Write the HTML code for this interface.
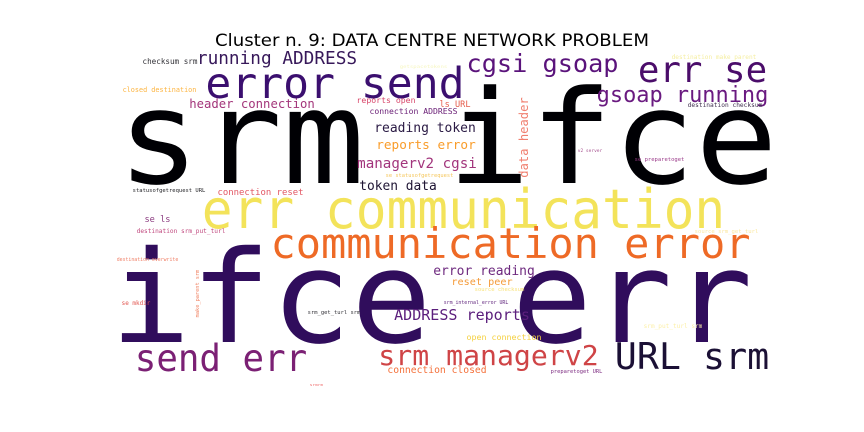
<!DOCTYPE html>
<html><head><meta charset="utf-8">
<style>
html,body{margin:0;padding:0;background:#fff;}
svg{display:block;}
text{font-family:"DejaVu Sans Mono","Liberation Mono",monospace;}
</style></head>
<body>
<svg id="cloud" width="864" height="432" viewBox="0 0 864 432" xmlns="http://www.w3.org/2000/svg">
<rect width="864" height="432" fill="#ffffff"/>
<text x="432" y="46" text-anchor="middle" font-size="17" textLength="434" lengthAdjust="spacingAndGlyphs" style="font-family:'DejaVu Sans','Liberation Sans',sans-serif" fill="#000">Cluster n. 9: DATA CENTRE NETWORK PROBLEM</text>
<g id="words"></g>
</svg>
<script>
// words (data)
const words = ["srm ifce","ifce err","err communication","communication error","error send","cgsi gsoap","err se","gsoap running","running ADDRESS","checksum srm","header connection","closed destination","reports open","ls URL","connection ADDRESS","reading token","reports error","managerv2 cgsi","token data","se statusofgetrequest","statusofgetrequest URL","connection reset","getspacetokens","destination make_parent","destination checksum","data header","v2 server","se preparetoget","se ls","destination srm_put_turl","destination overwrite","make_parent srm","se mkdir","srm_get_turl srm","error reading","reset peer","source checksum","srm_internal_error URL","ADDRESS reports","open connection","srm_put_turl srm","source srm_get_turl","send err","srm managerv2","URL srm","connection closed","preparetoget URL","srmrm"];
const weights = [130,128,54,42,43,25,36,22,18,7.6,12.3,6.8,8.2,8.6,8.1,13,12.7,14.2,12.9,5.4,5.5,9,4,6.1,6.2,12.5,4.5,5.5,8.6,6.2,4.9,5.3,6,5.5,13,10,5.5,4.9,15,8.3,6.1,5.6,37,28,36.6,9.7,5.4,3.2];
const colors = ["#000004","#300d5c","#f3e35a","#ee6a26","#3b0f6f","#5a137b","#4b0d6a","#6a1a80","#37185a","#333238","#a3357a","#fcb440","#d8466a","#e55c4b","#6c2278","#2a1a44","#f99c2a","#a2357c","#1e1433","#f5c65a","#222226","#e25663","#f6f6c0","#f5eea0","#40304f","#f07f6f","#a5508e","#9b3b8a","#8a3a7f","#c0487e","#f08068","#f08060","#e2554f","#333238","#6e2a7f","#f49b3a","#f8e27a","#5c1f7a","#5b1e7c","#f4d040","#fcf0a8","#fbe8a0","#7b2074","#cf4446","#1b1035","#f4703a","#7c2b80","#f07070"];
// layout from the word-cloud image (ink-left x, baseline y, ink width, rotation)
const layoutX = [125,118,205,273,208,468,640,598,198,143,190,123,357,440,370,375,377,358,360,386,133,218,400,672,688,528,578,635,145,137,117,199,122,308,434,452,475,444,395,467,644,695,137,380,617,388,551,310];
const layoutY = [183,342,228,258,98,72,82,102,64,64,108,92,103,107,114,132,149,168,190,177,192,195,68,59,107,177,152,161,222,233,261,317,305,314,275,285,291,304,320,340,328,233,371,365,369,373,373,386];
const layoutW = [645,627,517,475,254,149,125,169,158,54,124,73,58,30,87,100,98,118,76,67,72,85,47,84,74,79,24,49,25,88,61,47,28,52,100,60,49,64,134,74,58,63,168,217,150,98,51,13];
const layoutR = [0,0,0,0,0,0,0,0,0,0,0,0,0,0,0,0,0,0,0,0,0,0,0,0,0,-90,0,0,0,0,0,-90,0,0,0,0,0,0,0,0,0,0,0,0,0,0,0,0];

const g = document.getElementById('words');
const NS = 'http://www.w3.org/2000/svg';
words.forEach(function(w, i){
  const fs = weights[i];
  const t = document.createElementNS(NS, 'text');
  t.textContent = w;
  t.setAttribute('font-size', fs);
  t.setAttribute('fill', colors[i]);
  t.setAttribute('textLength', layoutW[i] + 0.12 * fs);
  t.setAttribute('lengthAdjust', 'spacingAndGlyphs');
  if (layoutR[i] !== 0) {
    t.setAttribute('x', -0.06 * fs);
    t.setAttribute('y', 0);
    t.setAttribute('transform', 'translate(' + layoutX[i] + ',' + layoutY[i] + ') rotate(' + layoutR[i] + ')');
  } else {
    t.setAttribute('x', layoutX[i] - 0.06 * fs);
    t.setAttribute('y', layoutY[i]);
  }
  
  
  g.appendChild(t);
});
</script>
</body></html>
